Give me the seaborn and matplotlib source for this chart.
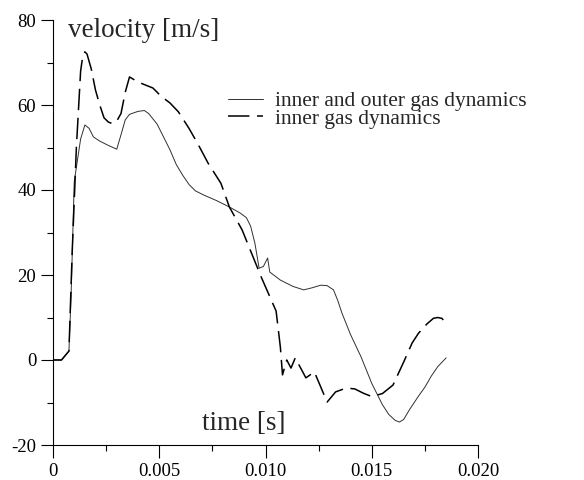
import numpy as np
import pandas as pd
import matplotlib
matplotlib.use("Agg")
import matplotlib.pyplot as plt
import seaborn as sns
from matplotlib.ticker import MultipleLocator

# Data
# solid: inner and outer gas dynamics
t_outer = [0.0, 0.0004, 0.00075, 0.00085, 0.0010, 0.0013, 0.0015, 0.0017, 0.0019,
           0.0022, 0.0026, 0.0030, 0.0032, 0.0034, 0.0036, 0.0040, 0.0043, 0.0045,
           0.0049, 0.0052, 0.0055, 0.0058, 0.0061, 0.0064, 0.0067, 0.0071, 0.0077,
           0.0083, 0.0088, 0.0091, 0.0093, 0.0095, 0.0097, 0.0099, 0.0101, 0.0102,
           0.0107, 0.0113, 0.0118, 0.0122, 0.0126, 0.0129, 0.0132, 0.0134, 0.0136,
           0.0140, 0.0145, 0.0150, 0.0155, 0.0158, 0.0161, 0.0163, 0.0165, 0.0168,
           0.0172, 0.0175, 0.0178, 0.0181, 0.0185]
v_outer = [0.0, 0.0, 2.1, 15.0, 42.0, 52.0, 55.3, 54.5, 52.5,
           51.5, 50.5, 49.6, 53.0, 56.5, 57.8, 58.5, 58.7, 58.0,
           55.5, 52.5, 49.5, 46.0, 43.5, 41.3, 39.8, 38.8, 37.5,
           36.0, 34.6, 33.5, 31.5, 27.5, 21.6, 22.0, 24.0, 20.7,
           18.8, 17.3, 16.5, 17.0, 17.6, 17.5, 16.5, 14.0, 11.0,
           6.0, 0.7, -5.5, -10.5, -12.8, -14.2, -14.6, -14.0, -11.5,
           -8.5, -6.4, -3.8, -1.6, 0.5]

# dashed: inner gas dynamics
t_inner = [0.0, 0.0004, 0.00075, 0.0009, 0.0011, 0.0013, 0.0014, 0.0015, 0.0016,
           0.0018, 0.0020, 0.0022, 0.0024, 0.0026, 0.0028, 0.0030, 0.0032, 0.0034,
           0.0036, 0.0038, 0.0042, 0.0047, 0.0051, 0.0055, 0.0059, 0.0064, 0.0068,
           0.0073, 0.0079, 0.0083, 0.0089, 0.0098, 0.0105, 0.0107, 0.0108, 0.0110,
           0.0112, 0.0114, 0.0119, 0.0123, 0.0129, 0.0133, 0.0138, 0.0142, 0.0146,
           0.0150, 0.0155, 0.0160, 0.0165, 0.0169, 0.0172, 0.0176, 0.0179, 0.0181,
           0.0183, 0.0185]
v_inner = [0.0, 0.0, 2.1, 25.0, 50.0, 68.0, 71.5, 72.5, 72.0,
           68.5, 63.5, 60.0, 57.0, 56.0, 55.6, 56.2, 58.0, 63.0,
           66.6, 66.0, 65.0, 64.0, 62.0, 60.5, 58.4, 54.5, 51.0,
           46.3, 41.6, 36.0, 30.6, 19.5, 11.5, 3.0, -3.5, 0.0,
           -1.9, 0.5, -4.2, -2.8, -9.9, -7.5, -6.6, -6.8, -7.8,
           -8.6, -7.9, -5.9, -0.5, 4.0, 6.3, 8.5, 9.8, 10.0,
           9.8, 8.6]

labels = ["inner and outer gas dynamics", "inner gas dynamics"]
xticks = [0.0, 0.005, 0.010, 0.015, 0.020]
xtick_labels = ["0", "0.005", "0.010", "0.015", "0.020"]
yticks = [-20, 0, 20, 40, 60, 80]
ytick_labels = ["-20", "0", "20", "40", "60", "80"]

df_outer = pd.DataFrame({"time": t_outer, "velocity": v_outer})
df_inner = pd.DataFrame({"time": t_inner, "velocity": v_inner})

sns.set_theme(style="ticks")
plt.rcParams["font.family"] = ["Liberation Serif", "DejaVu Serif"]

fig = plt.figure(figsize=(5.84, 4.8), dpi=100)
ax = fig.add_axes([53 / 584, 35 / 480, 425 / 584, 425 / 480])

sns.lineplot(data=df_outer, x="time", y="velocity", sort=False, estimator=None,
             color="#303030", linewidth=0.7, label=labels[0], ax=ax)
sns.lineplot(data=df_inner, x="time", y="velocity", sort=False, estimator=None,
             color="black", linewidth=1.1, linestyle=(0, (14, 5)),
             label=labels[1], ax=ax)

ax.set_xlim(0, 0.020)
ax.set_ylim(-20, 80)
ax.set_xticks(xticks, labels=xtick_labels)
ax.set_yticks(yticks, labels=ytick_labels)
ax.xaxis.set_minor_locator(MultipleLocator(0.0025))
ax.yaxis.set_minor_locator(MultipleLocator(10))
ax.tick_params(which="major", direction="out", length=9, width=0.8,
               labelsize=13.5, color="black", labelcolor="black")
ax.tick_params(axis="y", which="major", pad=3)
ax.tick_params(axis="x", which="major", pad=4)
ax.tick_params(which="minor", direction="out", length=4.5, width=0.8, color="black")
sns.despine(ax=ax)
for side in ["left", "bottom"]:
    ax.spines[side].set_linewidth(0.8)
    ax.spines[side].set_color("black")

ax.set_ylabel("velocity [m/s]", rotation=0, ha="left", va="baseline", fontsize=19.5)
ax.yaxis.set_label_coords(15 / 425, (445 - 37) / 425)
ax.set_xlabel("time [s]", ha="left", va="baseline", fontsize=19.5)
ax.xaxis.set_label_coords((202 - 53) / 425, (445 - 430) / 425)

handles, labs = ax.get_legend_handles_labels()
ax.legend(handles, labs, loc="upper left", bbox_to_anchor=(228 / 584, 1 - 91 / 480),
          bbox_transform=fig.transFigure, frameon=False, fontsize=15.5,
          borderpad=0, borderaxespad=0, labelspacing=-0.12,
          handlelength=1.63, handletextpad=0.56)

fig.savefig("out.png", dpi=100)
